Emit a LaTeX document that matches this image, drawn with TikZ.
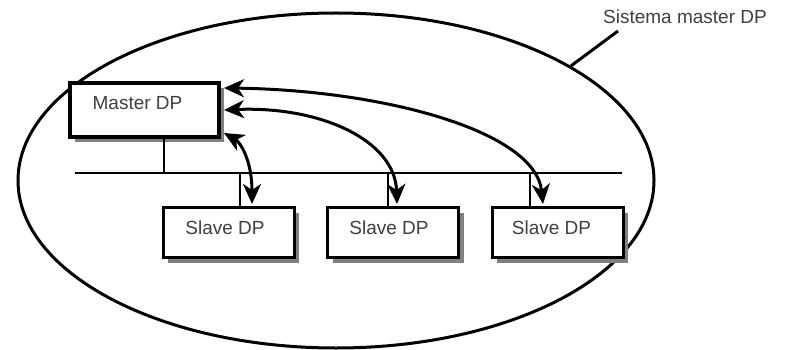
\documentclass[tikz,border=0pt]{standalone}
\usepackage{fontspec}
\setmainfont{Liberation Sans}
\usetikzlibrary{shapes.geometric,shadows,arrows.meta}

\tikzset{
  txt/.style={text=black!75, font=\fontsize{19}{22}\selectfont},
  boxshadow/.style={drop shadow={shadow xshift=5pt, shadow yshift=-5pt, fill=black!50, opacity=1}},
  masterbox/.style={draw, line width=3.5pt, fill=white, boxshadow, minimum width=149pt, minimum height=54pt, inner sep=0pt},
  slavebox/.style={draw, line width=3pt, fill=white, boxshadow, minimum width=131pt, minimum height=50pt, inner sep=0pt},
  busline/.style={line width=2.4pt},
  linkarrow/.style={line width=3pt, {Stealth[length=20pt, width=18pt, inset=6pt]}-{Stealth[length=20pt, width=18pt, inset=6pt]}},
}

\begin{document}
\begin{tikzpicture}[x=1pt, y=-1pt]
  \useasboundingbox (0,0) rectangle (786,350);

  % overall system boundary
  \node[ellipse, draw, line width=3pt, minimum width=636pt, minimum height=335pt, inner sep=0pt] (sys) at (336,180.5) {};

  % caption with its pointer
  \node[txt, anchor=center] (cap) at (685,17) {Sistema master DP};
  \coordinate (ptr) at (618,31);
  \draw[line width=3pt] (ptr) -- (sys.26.8);

  % bus
  \coordinate (busL) at (75,173);
  \coordinate (busR) at (622,173);
  \coordinate (tapM) at (164,173);
  \coordinate (tapA) at (240,173);
  \coordinate (tapB) at (388,173);
  \coordinate (tapC) at (530,173);
  \draw[busline] (busL) -- (busR);

  % stations
  \node[masterbox, label={[txt, xshift=-7pt, yshift=7pt]center:Master DP}] (master) at (144.5,110) {};
  \node[slavebox, label={[txt, xshift=-3.5pt, yshift=4.5pt]center:Slave DP}] (slA) at (228.5,232.5) {};
  \node[slavebox, label={[txt, xshift=-4pt, yshift=4.5pt]center:Slave DP}] (slB) at (393,232.5) {};
  \node[slavebox, label={[txt, xshift=-6pt, yshift=4.5pt]center:Slave DP}] (slC) at (557.5,232.5) {};

  % drops from the bus
  \draw[busline] (tapM) -- (tapM |- master.south);
  \draw[busline] (tapA) -- (tapA |- slA.north);
  \draw[busline] (tapB) -- (tapB |- slB.north);
  \draw[busline] (tapC) -- (tapC |- slC.north);

  % master-slave exchanges
  \coordinate (mA) at (224,133);
  \coordinate (mB) at (224,110);
  \coordinate (mC) at (224,88);
  \coordinate (sA) at (252,204);
  \coordinate (sB) at (397,204);
  \coordinate (sC) at (543,204);
  \draw[linkarrow] (sA) .. controls (252,160) and (240,142) .. (mA);
  \draw[linkarrow] (mB) .. controls (320,106) and (395,140) .. (sB);
  \draw[linkarrow] (mC) .. controls (380,90) and (535,130) .. (sC);
\end{tikzpicture}
\end{document}
